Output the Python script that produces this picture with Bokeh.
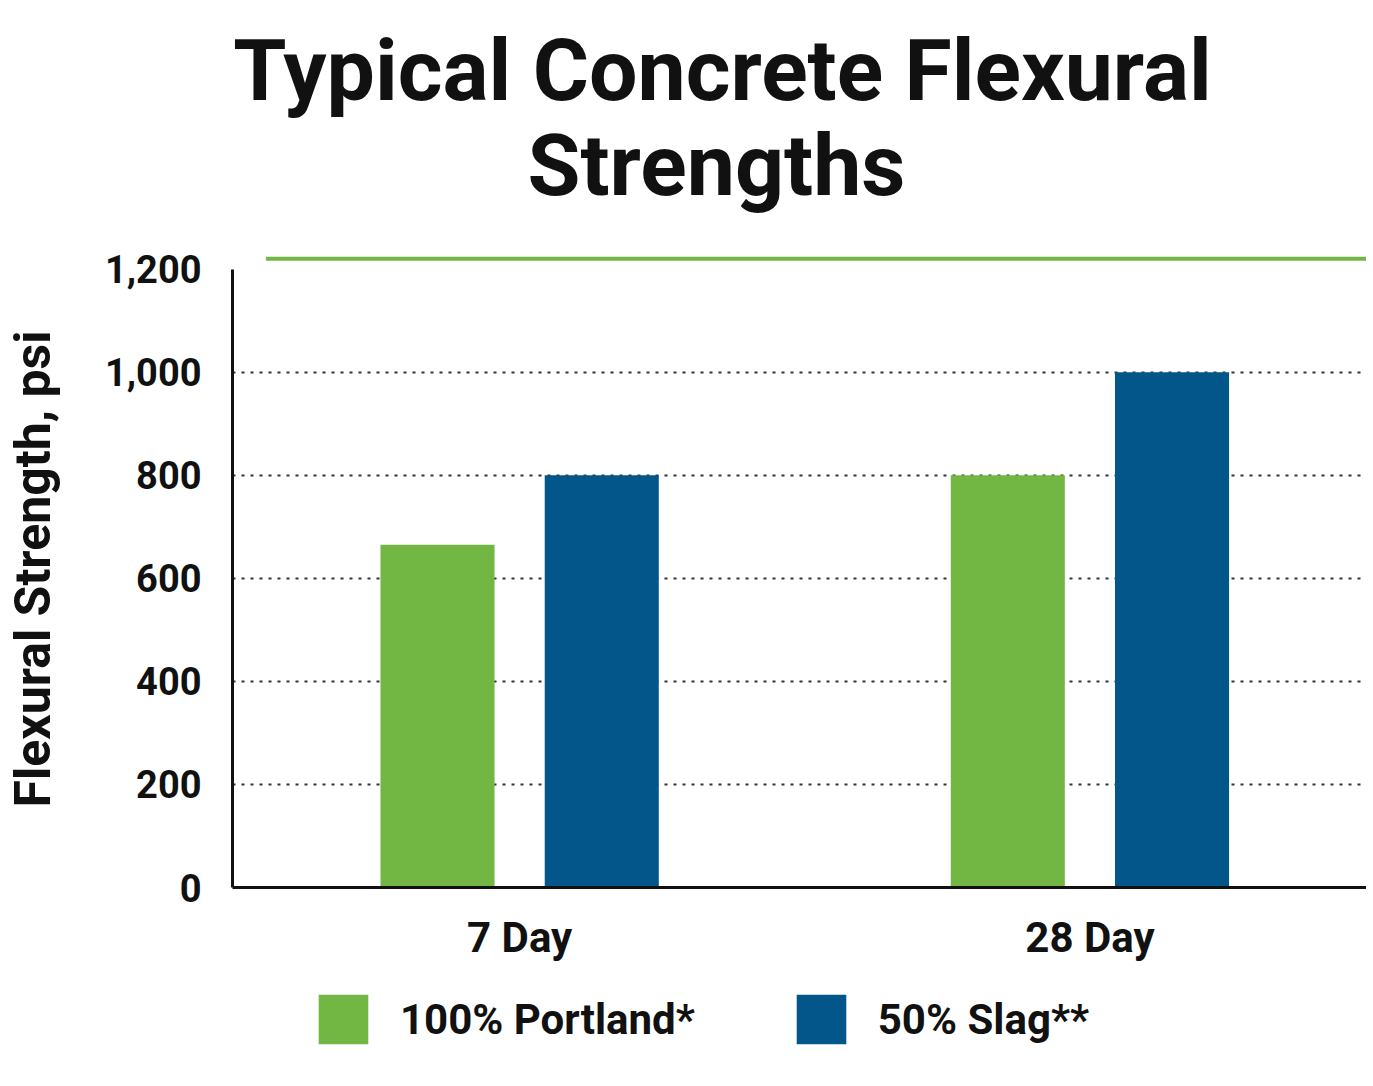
from bokeh.plotting import figure
from bokeh.models import (ColumnDataSource, Range1d, FixedTicker, Legend, LegendItem)
from bokeh.layouts import column
from bokeh.core.properties import value
from bokeh.embed import file_html
from bokeh.resources import INLINE

# ---- data ----
categories = ["7 Day", "28 Day"]
series_names = ["100% Portland*", "50% Slag**"]
portland = [665, 800]
slag = [800, 1000]
y_ticks = [0, 200, 400, 600, 800, 1000, 1200]
y_tick_labels = ["0", "200", "400", "600", "800", "1,000", "1,200"]
title_lines = ["Typical Concrete Flexural", "Strengths"]

GREEN = "#72B644"
BLUE = "#02568A"
FONT = "Roboto"
W = 1366
LEFT = 232

# ---- title figure (coordinates in page pixels) ----
t = figure(width=W, height=240, output_backend="svg", toolbar_location=None,
           x_range=Range1d(LEFT, W), y_range=Range1d(240, 0),
           min_border_left=LEFT, min_border_right=0, min_border_top=0, min_border_bottom=0,
           outline_line_color=None)
t.axis.visible = False
t.grid.visible = False
t.text(x=[722, 716], y=[70, 165], text=title_lines,
       text_font=value(FONT), text_font_style="bold", text_font_size="86px",
       text_align="center", text_baseline="alphabetic", text_color="#111111")

# ---- main figure ----
centers = [0.5, 1.5]
off = 0.144
bw = 0.2
src = ColumnDataSource(dict(
    xg=[c - off for c in centers], xb=[c + off for c in centers],
    portland=portland, slag=slag, cat=categories))

p = figure(width=W, height=724, output_backend="svg", toolbar_location=None,
           x_range=Range1d(-0.0035, 1.985), y_range=Range1d(0, 1236),
           min_border_left=LEFT, min_border_right=0, min_border_top=10,
           min_border_bottom=60, outline_line_color=None)

p.ygrid.ticker = FixedTicker(ticks=[200, 400, 600, 800, 1000])
p.ygrid.grid_line_color = "#333333"
p.ygrid.grid_line_dash = "3 6"
p.ygrid.grid_line_width = 2
p.xgrid.visible = False

# decorative green line at top
p.segment(x0=[0.055], y0=[1220], x1=[2.1], y1=[1220], line_color=GREEN, line_width=4)

rg = p.vbar(x="xg", top="portland", width=bw, source=src, fill_color=GREEN, line_color=None)
rb = p.vbar(x="xb", top="slag", width=bw, source=src, fill_color=BLUE, line_color=None)

ya = p.yaxis[0]
ya.ticker = FixedTicker(ticks=y_ticks)
ya.major_label_overrides = {t_: l for t_, l in zip(y_ticks, y_tick_labels)}
ya.bounds = (0, 1200)
ya.axis_line_width = 3
ya.axis_line_color = "#111111"
ya.major_tick_line_color = None
ya.minor_tick_line_color = None
ya.major_tick_out = 0
ya.major_tick_in = 0
ya.major_label_text_font = FONT
ya.major_label_text_font_style = "bold"
ya.major_label_text_font_size = "38px"
ya.major_label_text_color = "#111111"
ya.major_label_standoff = 31
ya.axis_label = "Flexural Strength, psi"
ya.axis_label_text_font = FONT
ya.axis_label_text_font_style = "bold"
ya.axis_label_text_font_size = "50px"
ya.axis_label_text_color = "#111111"
ya.axis_label_standoff = 40

xa = p.xaxis[0]
xa.ticker = FixedTicker(ticks=centers)
xa.major_label_overrides = {c: l for c, l in zip(centers, categories)}
xa.axis_line_width = 3
xa.axis_line_color = "#111111"
xa.major_tick_line_color = None
xa.minor_tick_line_color = None
xa.major_tick_out = 0
xa.major_tick_in = 0
xa.major_label_text_font = FONT
xa.major_label_text_font_style = "bold"
xa.major_label_text_font_size = "42px"
xa.major_label_text_color = "#111111"
xa.major_label_standoff = 25

# ---- legend figure ----
lg = figure(width=W, height=106, output_backend="svg", toolbar_location=None,
            x_range=Range1d(0, 1), y_range=Range1d(0, 1),
            min_border_left=LEFT, min_border_right=0, min_border_top=0, min_border_bottom=0,
            outline_line_color=None)
lg.axis.visible = False
lg.grid.visible = False
dg = lg.vbar(x=[5], top=[1], width=0.1, fill_color=GREEN, line_color=None)
db = lg.vbar(x=[5], top=[1], width=0.1, fill_color=BLUE, line_color=None)
legend = Legend(items=[LegendItem(label=series_names[0], renderers=[dg]),
                       LegendItem(label=series_names[1], renderers=[db])],
                orientation="horizontal", location=(80, 20),
                glyph_width=62, glyph_height=62, label_standoff=26, spacing=95,
                label_text_font=FONT, label_text_font_style="bold",
                label_text_font_size="42px", label_text_color="#111111",
                padding=0, margin=0, border_line_alpha=0, background_fill_alpha=0,
                label_height=62)
lg.add_layout(legend, "center")

layout = column(t, p, lg, spacing=0)
open("out.html", "w").write(file_html(layout, INLINE))
